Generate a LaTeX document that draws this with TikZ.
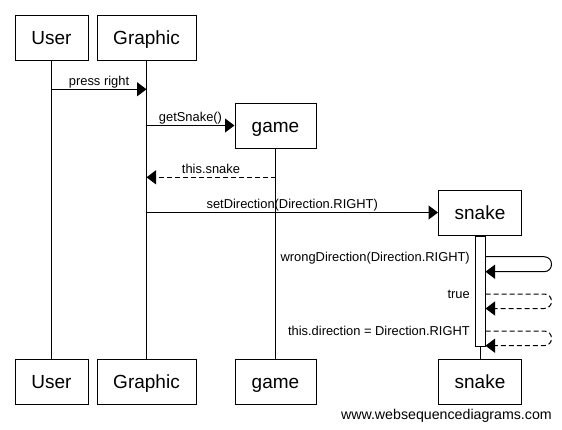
\documentclass[tikz,border=0pt]{standalone}
\usepackage{fontspec}
\setmainfont{Liberation Sans}
\usetikzlibrary{arrows.meta}
\begin{document}
\begin{tikzpicture}[x=1pt,y=-1pt,
  actor/.style={draw, line width=1pt, minimum width=#1, minimum height=45pt, inner sep=0pt, text height=14.5pt, text depth=0pt, font=\fontsize{19}{22}\selectfont, fill=white},
  life/.style={line width=1pt},
  msg/.style={line width=1pt, -{Triangle[length=9.5pt,width=14pt]}},
  ret/.style={msg, dash pattern=on 5pt off 3pt},
  lbl/.style={font=\fontsize{12.9}{15}\selectfont, inner sep=0pt, anchor=base},
  slbl/.style={lbl, anchor=base east},
  actbar/.style={draw, line width=1pt, fill=white, minimum width=10pt, inner sep=0pt, anchor=north},
]
\useasboundingbox (0,0) rectangle (562,429);
% top actors
\node[actor=73pt] (userT) at (51.5,37.5) {User};
\node[actor=99pt] (graphT) at (146.5,37.5) {Graphic};
\node[actor=81pt] (gameT) at (275.5,125.5) {game};
\node[actor=83pt] (snakeT) at (480,212.5) {snake};
% bottom actors
\node[actor=73pt] (userB) at (51.5,381.5) {User};
\node[actor=99pt] (graphB) at (146.5,381.5) {Graphic};
\node[actor=81pt] (gameB) at (275.5,381.5) {game};
\node[actor=83pt] (snakeB) at (480,381.5) {snake};
% lifelines
\draw[life] (userT.south) -- (userB.north);
\draw[life] (graphT.south) -- (graphB.north);
\draw[life] (gameT.south) -- (gameB.north);
\draw[life] (snakeT.south) -- (snakeB.north);
% activation
\node[actbar, minimum height=110.7pt] (act) at (snakeT.south) {};
% messages
\draw[msg] (userT.south |- 0,89.3) -- node[lbl, yshift=4pt] (l1) {press right} (graphT.south |- 0,89.3);
\draw[msg] (graphT.south |- gameT.west) -- node[lbl, yshift=4pt] (l2) {getSnake()} (gameT.west);
\draw[ret] (gameT.south |- 0,177.3) -- node[lbl, yshift=4pt] (l3) {this.snake} (graphT.south |- 0,177.3);
\draw[msg] (graphT.south |- snakeT.west) -- node[lbl, yshift=4.5pt] (l4) {setDirection(Direction.RIGHT)} (snakeT.west);
% self messages
\coordinate (s1a) at (act.east |- 0,256.7);
\coordinate (s1b) at (act.east |- 0,271.7);
\coordinate (s2a) at (act.east |- 0,294);
\coordinate (s2b) at (act.east |- 0,308.5);
\coordinate (s3a) at (act.east |- 0,331);
\coordinate (s3b) at (act.east |- 0,345.7);
\draw[msg] (s1a) -- (544,256.7) .. controls (554,256.7) and (554,271.7) .. (544,271.7) -- (s1b);
\draw[ret] (s2a) -- (544,294) .. controls (554,294) and (554,308.5) .. (544,308.5) -- (s2b);
\draw[ret] (s3a) -- (544,331) .. controls (554,331) and (554,345.7) .. (544,345.7) -- (s3b);
\node[slbl] (l5) at (470,261.5) {wrongDirection(Direction.RIGHT)};
\node[slbl] (l6) at (470,298.5) {true};
\node[slbl] (l7) at (470,335.5) {this.direction = Direction.RIGHT};
% watermark
\node[font=\fontsize{14.2}{17}\selectfont, inner sep=0pt, anchor=base east] (wm) at (552,419) {www.websequencediagrams.com};
\end{tikzpicture}
\end{document}
